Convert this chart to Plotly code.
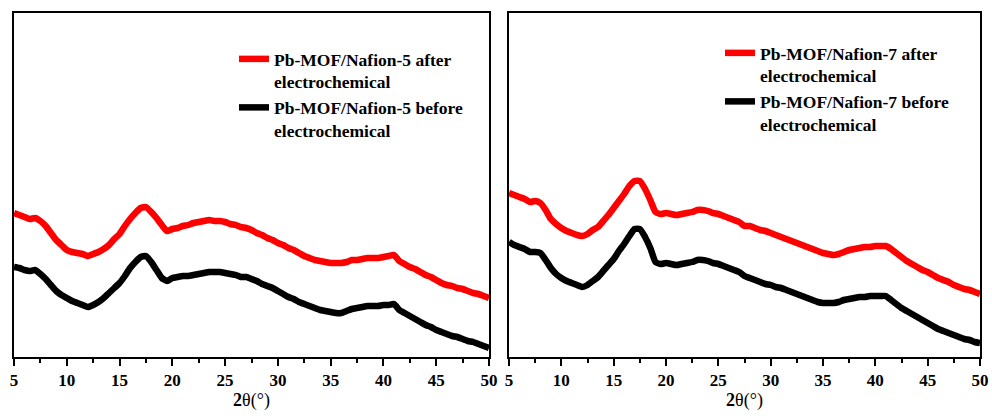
import numpy as np
import plotly.graph_objects as go

two_theta = [5 + 0.5 * i for i in range(91)]

# Panel 1 (Nafion-5), arbitrary intensity units
n5_after = [144,142,140,138,139,136,131,124,117,112,
            107,105,104,103,101,103,105,108,112,118,
            123,131,138,144,149,150,145,139,132,126,
            128,129,131,132,134,135,136,137,136,136,
            135,133,132,130,129,127,124,122,119,117,
            114,112,109,107,104,101,99,97,96,95,
            94,94,94,95,97,97,98,99,99,99,
            100,101,102,96,93,90,88,85,82,80,
            77,74,72,71,69,68,66,64,63,61,59]
n5_before = [90,89,87,86,87,83,78,72,66,62,
             59,56,54,52,50,52,55,59,64,69,
             74,81,89,95,100,101,95,87,79,76,
             79,80,81,81,82,83,84,85,85,85,
             84,83,82,80,80,78,76,73,71,69,
             66,63,60,58,55,53,51,49,47,46,
             45,44,44,46,48,49,50,51,51,51,
             52,52,53,47,44,41,38,35,32,30,
             27,25,23,21,20,18,16,15,13,11,9]
# Panel 2 (Nafion-7)
n7_after = [164,162,160,158,155,156,154,147,138,133,
            129,126,124,122,121,123,127,130,136,142,
            149,156,163,171,176,176,168,157,145,143,
            144,143,142,143,144,145,147,147,146,144,
            143,141,139,137,135,131,131,129,127,126,
            124,122,120,118,116,114,112,110,108,106,
            104,103,102,103,105,107,108,109,110,110,
            111,111,111,108,104,100,96,93,90,87,
            85,82,79,77,75,72,70,68,67,65,63]
n7_before = [115,112,110,108,105,105,104,97,89,83,
             79,76,74,72,70,72,76,80,86,92,
             98,106,113,121,128,128,120,109,95,93,
             94,93,92,93,94,95,97,97,96,94,
             93,91,89,87,85,81,79,77,75,73,
             72,70,69,67,65,63,61,59,57,55,
             54,54,54,55,57,58,59,60,60,61,
             61,61,61,57,53,49,46,43,40,37,
             34,31,28,26,24,22,20,18,17,15,14]

for s in (n5_after, n5_before, n7_after, n7_before):
    assert len(s) == len(two_theta), len(s)

x_ticks = [5, 10, 15, 20, 25, 30, 35, 40, 45, 50]

FONT = "Liberation Serif"
fig = go.Figure()

traces = [
    (n5_after, "#ff0000", "Pb-MOF/Nafion-5 after<br>electrochemical", "x", "y", "legend"),
    (n5_before, "#000000", "Pb-MOF/Nafion-5 before<br>electrochemical", "x", "y", "legend"),
    (n7_after, "#ff0000", "Pb-MOF/Nafion-7 after<br>electrochemical", "x2", "y2", "legend2"),
    (n7_before, "#000000", "Pb-MOF/Nafion-7 before<br>electrochemical", "x2", "y2", "legend2"),
]
for ys, col, nm, xa, ya, lg in traces:
    fig.add_trace(go.Scatter(x=two_theta, y=ys, mode="lines",
                             line=dict(color=col, width=6.5, shape="spline", smoothing=0.5),
                             name="<b>" + nm.replace("<br>", "</b><br><b>") + "</b>",
                             xaxis=xa, yaxis=ya, legend=lg))

W, H = 992, 418
ydom = [(H - 357) / H, (H - 13) / H]

def xaxis(dom, anchor):
    return dict(domain=dom, range=[5, 50], anchor=anchor, automargin=False,
                tickmode="array", tickvals=x_ticks,
                ticktext=["<b>%d</b>" % v for v in x_ticks],
                showline=True, linecolor="black", linewidth=2, mirror=True,
                ticks="outside", ticklen=7, tickwidth=2, tickcolor="black",
                minor=dict(ticks="outside", ticklen=4, tickwidth=2,
                           tickcolor="black", dtick=2.5, showgrid=False),
                showgrid=False, zeroline=False,
                tickfont=dict(family=FONT, size=17, color="black"),
                title=dict(text="<b>2</b>θ(°)", standoff=2,
                           font=dict(family=FONT, size=18, color="black")))

def yaxis(anchor):
    return dict(domain=ydom, range=[0, 344], anchor=anchor, automargin=False,
                showline=True, linecolor="black", linewidth=2, mirror=True,
                showticklabels=False, ticks="", showgrid=False, zeroline=False)

leg_common = dict(font=dict(family=FONT, size=17.5, color="black"),
                  bgcolor="rgba(0,0,0,0)", borderwidth=0, valign="top",
                  xanchor="left", yanchor="top", tracegroupgap=0,
                  itemwidth=30)

fig.update_layout(
    width=W, height=H,
    margin=dict(l=0, r=0, t=0, b=0, autoexpand=False),
    paper_bgcolor="white", plot_bgcolor="white",
    font=dict(family=FONT),
    xaxis=xaxis([14 / W, 489 / W], "y"),
    yaxis=yaxis("x"),
    xaxis2=xaxis([509 / W, 980 / W], "y2"),
    yaxis2=yaxis("x2"),
    legend=dict(x=234 / W, y=1 - 41 / H, **leg_common),
    legend2=dict(x=720 / W, y=1 - 35 / H, **leg_common),
    showlegend=True,
)

fig.write_html("out.html", config={"displayModeBar": False, "staticPlot": True},
               post_script="document.body.style.margin='0';document.body.style.padding='0';")
